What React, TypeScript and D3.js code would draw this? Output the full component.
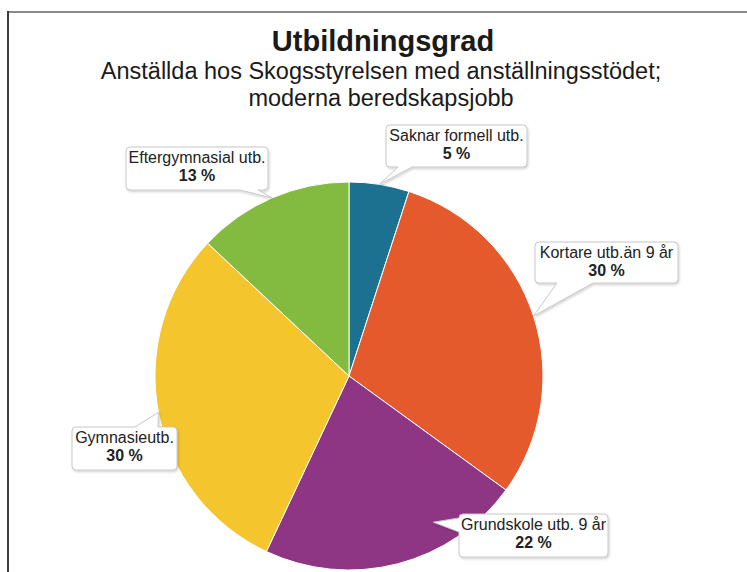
import * as d3 from 'd3'
import {useRef, useLayoutEffect} from "react";

const categories = ['Saknar formell utb.', 'Kortare utb.än 9 år', 'Grundskole utb. 9 år', 'Gymnasieutb.', 'Eftergymnasial utb.']
const shares = [5, 30, 22, 30, 13]
const colors = ['#1c7191', '#e55a2c', '#8e3684', '#f4c52d', '#83bb41']

// callout boxes: [x, y, w, h], edge the pointer sits on, and where its base starts/ends
const boxes = [
  {box: [386, 125, 141, 42], edge: 'bottom', base: [398, 412]},
  {box: [535, 242, 143, 41], edge: 'bottom', base: [557, 593]},
  {box: [459, 514, 149, 43], edge: 'left', base: [518, 532], anchor: {angle: 150, k: 0.87}},
  {box: [72, 427, 105, 43], edge: 'top', base: [135, 158]},
  {box: [126, 147, 142, 43], edge: 'bottom', base: [240, 258]},
]

const W = 747
const H = 572
const cx = 349
const cy = 376
const radius = 194

const font = '"Liberation Sans", Arial, sans-serif'

function calloutPath(b, tip) {
  const [x, y, w, h] = b.box
  const r = 4
  const [b0, b1] = b.base
  const p = d3.path()
  p.moveTo(x + r, y)
  if (b.edge === 'top') {
    p.lineTo(b0, y); p.lineTo(tip[0], tip[1]); p.lineTo(b1, y)
  }
  p.lineTo(x + w - r, y)
  p.quadraticCurveTo(x + w, y, x + w, y + r)
  p.lineTo(x + w, y + h - r)
  p.quadraticCurveTo(x + w, y + h, x + w - r, y + h)
  if (b.edge === 'bottom') {
    p.lineTo(b1, y + h); p.lineTo(tip[0], tip[1]); p.lineTo(b0, y + h)
  }
  p.lineTo(x + r, y + h)
  p.quadraticCurveTo(x, y + h, x, y + h - r)
  if (b.edge === 'left') {
    p.lineTo(x, b1); p.lineTo(tip[0], tip[1]); p.lineTo(x, b0)
  }
  p.lineTo(x, y + r)
  p.quadraticCurveTo(x, y, x + r, y)
  p.closePath()
  return p.toString()
}

const App = () => {
  const svgRef = useRef(null)

  useLayoutEffect(() => {
    const svg = d3.select(svgRef.current)
    svg.selectAll('*').remove()

    const defs = svg.append('defs')
    const f = defs.append('filter').attr('id', 'shadow').attr('x', '-20%').attr('y', '-20%').attr('width', '140%').attr('height', '150%')
    f.append('feDropShadow').attr('dx', 1).attr('dy', 1.5).attr('stdDeviation', 1.2)
      .attr('flood-color', '#000').attr('flood-opacity', 0.18)

    // frame
    svg.append('line').attr('x1', 8).attr('x2', W).attr('y1', 12).attr('y2', 12)
      .attr('stroke', '#8a8a8a').attr('stroke-width', 2)
    svg.append('line').attr('x1', 8).attr('x2', 8).attr('y1', 11).attr('y2', H)
      .attr('stroke', '#3c3c3c').attr('stroke-width', 2)

    // titles
    svg.append('text').attr('x', 383).attr('y', 51).attr('text-anchor', 'middle')
      .attr('font-family', font).attr('font-size', 29).attr('font-weight', 'bold').attr('fill', '#1a1a1a')
      .text('Utbildningsgrad')
    svg.append('text').attr('x', 381).attr('y', 79).attr('text-anchor', 'middle')
      .attr('font-family', font).attr('font-size', 23.5).attr('fill', '#1a1a1a')
      .text('Anställda hos Skogsstyrelsen med anställningsstödet;')
    svg.append('text').attr('x', 381).attr('y', 106).attr('text-anchor', 'middle')
      .attr('font-family', font).attr('font-size', 23.5).attr('fill', '#1a1a1a')
      .text('moderna beredskapsjobb')

    const pie = d3.pie().sort(null).value((d) => d)
    const arcs = pie(shares)
    const arc = d3.arc().innerRadius(0).outerRadius(radius)
    const edgeArc = d3.arc().innerRadius(radius).outerRadius(radius)

    const g = svg.append('g').attr('transform', `translate(${cx},${cy})`)
    g.selectAll('path')
      .data(arcs)
      .join('path')
      .attr('d', arc)
      .attr('fill', (d, i) => colors[i])
      .attr('stroke', '#fff')
      .attr('stroke-width', 1)

    // data labels
    arcs.forEach((a, i) => {
      const b = boxes[i]
      let tip
      if (b.anchor) {
        const ang = (b.anchor.angle * Math.PI) / 180
        tip = [cx + Math.sin(ang) * radius * b.anchor.k, cy - Math.cos(ang) * radius * b.anchor.k]
      } else {
        const c = edgeArc.centroid(a)
        tip = [cx + c[0], cy + c[1]]
      }
      const lg = svg.append('g')
      lg.append('path').attr('d', calloutPath(b, tip))
        .attr('fill', '#fff').attr('stroke', '#c8c8c8').attr('stroke-width', 1)
        .attr('filter', 'url(#shadow)')
      const [x, y, w] = b.box
      lg.append('text').attr('x', x + w / 2).attr('y', y + 16)
        .attr('text-anchor', 'middle').attr('font-family', font).attr('font-size', 16).attr('fill', '#222')
        .text(categories[i])
      lg.append('text').attr('x', x + w / 2).attr('y', y + 34)
        .attr('text-anchor', 'middle').attr('font-family', font).attr('font-size', 16)
        .attr('font-weight', 'bold').attr('fill', '#222')
        .text(`${shares[i]} %`)
    })
  }, [])

  return (
    <svg ref={svgRef} width={W} height={H} viewBox={`0 0 ${W} ${H}`}
      style={{position: 'absolute', left: 0, top: 0, background: '#fff'}}/>
  )
}

export default App;
